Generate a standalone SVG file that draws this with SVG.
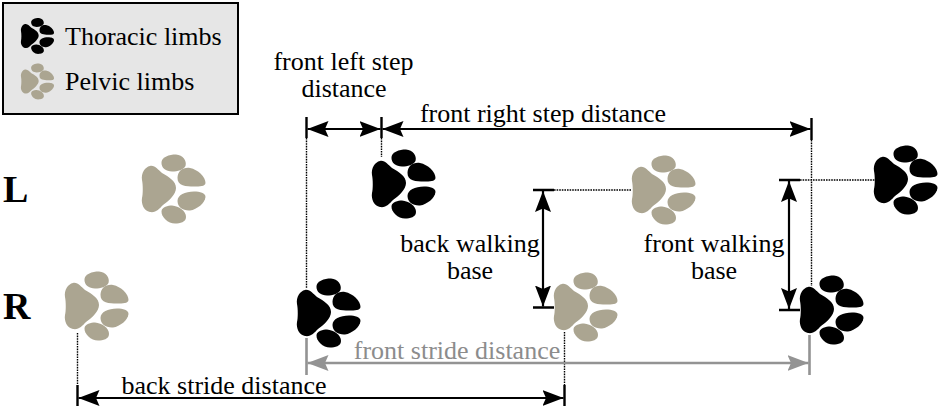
<svg xmlns="http://www.w3.org/2000/svg" xmlns:xlink="http://www.w3.org/1999/xlink" width="940" height="409" viewBox="0 0 940 409">
<style>
text{font-family:"Liberation Serif","Times New Roman",serif;font-size:26px;fill:#000}
.m{text-anchor:middle}
.b{font-weight:bold;font-size:38px}
.gt{fill:#8c8c8c}
.k{stroke:#000;stroke-width:2.2;fill:none}
.t{stroke:#000;stroke-width:2.4;fill:none}
.g{stroke:#939393;stroke-width:2.6;fill:none}
.d{stroke:#000;stroke-width:1.4;stroke-dasharray:1.6 1;fill:none}
.black{fill:#000}
.pelvic{fill:#aba591}
</style>
<defs>
<g id="paw">
<path d="M8-23C13-24 16-19 20-16C27-12 34-8 34-1C34 5 27 12 21 16C17 20 14 24 8 23C2 22-1 15 0 9C1 5 1-4 0-9C-1-16 3-22 8-23Z"/>
<path d="M19.5-27C20-32 27-34.500 34-34.500C41-34 45-28 43.500-23C41-19 36-17.500 30-17.500C24-17.500 19-21 19.500-27Z"/>
<path d="M35.500-11C35.500-18 41-22 48-21C56-19.500 63.500-12 63.500-6C63-2.500 58-2.500 52-2.500C44-2.500 35.500-3 35.500-11Z"/>
<path d="M35.500 12C35.500 6 43 2.500 52 2.500C58 2.500 63.500 4 63.500 8C63 14 55 20.500 48 21.500C41 22 35.500 18 35.500 12Z"/>
<path d="M19.500 22C20 18 26 16.500 30 16.500C37 17 44 22 44 28C44 33 38 34.500 33 34.500C26 34.500 19 28 19.500 22Z"/>
</g>
<marker id="ah" viewBox="0 0 21 16" refX="21" refY="8" markerWidth="21" markerHeight="16" markerUnits="userSpaceOnUse" orient="auto-start-reverse"><path d="M0 0L21 8L0 16L3.5 8Z" fill="#000"/></marker>
<marker id="ag" viewBox="0 0 21 16" refX="21" refY="8" markerWidth="21" markerHeight="16" markerUnits="userSpaceOnUse" orient="auto-start-reverse"><path d="M0 0L21 8L0 16L3.5 8Z" fill="#939393"/></marker>
</defs>
<g id="legend">
<rect x="3" y="3" width="235" height="111" fill="#e6e6e6" stroke="#000" stroke-width="2"/>
<use xlink:href="#paw" href="#paw" class="black" transform="translate(21 36) scale(.52)"/>
<use xlink:href="#paw" href="#paw" class="pelvic" transform="translate(21 81.5) scale(.52)"/>
<text x="65" y="45">Thoracic limbs</text>
<text x="65" y="90">Pelvic limbs</text>
</g>
<g id="connectors">
<path class="d" d="M306.5 138V288M381.5 138V157M811.5 140V286M77.5 333V385M564.5 332V385M554 190H632M800 180H875"/>
<path class="t" d="M306.5 117V138M381.5 117V138M811.5 118V140M77.5 385V406M564.5 385V406M533 190H554M533 307.5H554M779 180H800M779 310H800"/>
<path class="k" marker-start="url(#ah)" marker-end="url(#ah)" d="M307.5 129H380.5"/>
<path class="k" marker-start="url(#ah)" marker-end="url(#ah)" d="M382.5 129H810.5"/>
<path class="k" marker-start="url(#ah)" marker-end="url(#ah)" d="M78.5 398H563.5"/>
<path class="k" marker-start="url(#ah)" marker-end="url(#ah)" d="M543 191V306.5"/>
<path class="k" marker-start="url(#ah)" marker-end="url(#ah)" d="M789 181V309"/>
<path class="g" d="M306.5 338V375M809.5 335V375"/>
<path class="g" marker-start="url(#ag)" marker-end="url(#ag)" d="M307.5 363H808.5"/>
</g>
<g id="paw-pl1"><use xlink:href="#paw" href="#paw" class="pelvic" transform="translate(142 189)"/></g>
<g id="paw-tl1"><use xlink:href="#paw" href="#paw" class="black" transform="translate(372 184)"/></g>
<g id="paw-pl2"><use xlink:href="#paw" href="#paw" class="pelvic" transform="translate(632 190)"/></g>
<g id="paw-tl2"><use xlink:href="#paw" href="#paw" class="black" transform="translate(874 180)"/></g>
<g id="paw-pr1"><use xlink:href="#paw" href="#paw" class="pelvic" transform="translate(65 306)"/></g>
<g id="paw-tr1"><use xlink:href="#paw" href="#paw" class="black" transform="translate(297 313)"/></g>
<g id="paw-pr2"><use xlink:href="#paw" href="#paw" class="pelvic" transform="translate(554 307)"/></g>
<g id="paw-tr2"><use xlink:href="#paw" href="#paw" class="black" transform="translate(800 310)"/></g>
<g id="labels">
<text class="b" x="3" y="202">L</text>
<text class="b" x="3" y="319">R</text>
<text class="m"><tspan x="343.500" y="70">front left step</tspan><tspan x="344" y="97">distance</tspan></text>
<text class="m" x="543" y="122">front right step distance</text>
<text class="m"><tspan x="470" y="252">back walking</tspan><tspan x="470" y="279">base</tspan></text>
<text class="m"><tspan x="714" y="252">front walking</tspan><tspan x="714" y="279">base</tspan></text>
<text class="m gt" x="457" y="359">front stride distance</text>
<text class="m" x="224" y="394">back stride distance</text>
</g>
</svg>
